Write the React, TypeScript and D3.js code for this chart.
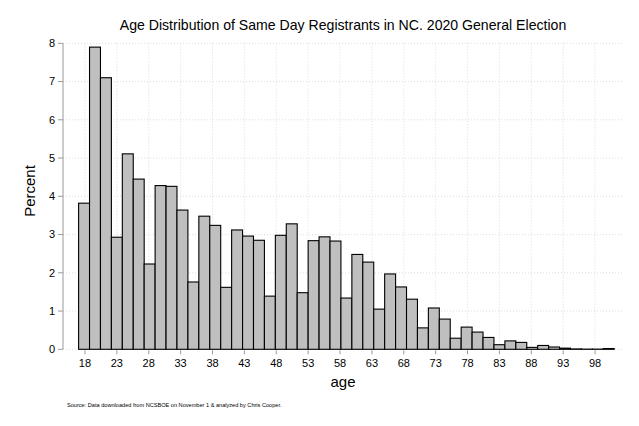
import React from 'react';
import * as d3 from 'd3';

// Histogram: 49 bins from age 17 to 101 (Stata default binning)
const binStart = 17;
const binEnd = 101;
const percents = [
  3.82, 7.9, 7.1, 2.93, 5.11, 4.45, 2.23, 4.28, 4.26, 3.64,
  1.76, 3.48, 3.24, 1.62, 3.12, 2.96, 2.85, 1.39, 2.98, 3.28,
  1.48, 2.84, 2.94, 2.83, 1.34, 2.48, 2.28, 1.05, 1.97, 1.63,
  1.31, 0.56, 1.08, 0.79, 0.29, 0.58, 0.45, 0.31, 0.12, 0.22,
  0.18, 0.05, 0.1, 0.06, 0.03, 0.01, 0.005, 0.005, 0.02,
];
const xTicks = [18, 23, 28, 33, 38, 43, 48, 53, 58, 63, 68, 73, 78, 83, 88, 93, 98];
const yTicks = [0, 1, 2, 3, 4, 5, 6, 7, 8];

const title = 'Age Distribution of Same Day Registrants in NC. 2020 General Election';
const source = 'Source: Data downloaded from NCSBOE on November 1 & analyzed by Chris Cooper.';

const W = 639;
const H = 426;
const font = 'Helvetica, Arial, "Liberation Sans", sans-serif';

export default function App() {
  const x = d3.scaleLinear().domain([binStart, binEnd]).range([78.6, 614.2]);
  const y = d3.scaleLinear().domain([0, 8]).range([349.3, 43.3]);
  const binW = (binEnd - binStart) / percents.length;
  const axisX = 63;
  const plotRight = 623;

  return (
    <svg width={W} height={H} style={{ position: 'absolute', left: 0, top: 0, background: '#fff' }} fontFamily={font}>
      <rect width={W} height={H} fill="#fff" />
      {/* grid */}
      {yTicks.map(t => (
        <line key={'gy' + t} x1={axisX} x2={plotRight} y1={y(t)} y2={y(t)}
          stroke="#d4d4d4" strokeWidth={0.8} strokeDasharray="1,2" />
      ))}
      {xTicks.map(t => (
        <line key={'gx' + t} x1={x(t)} x2={x(t)} y1={y(8)} y2={y(0)}
          stroke="#d4d4d4" strokeWidth={0.8} strokeDasharray="1,2" />
      ))}
      {/* bars */}
      {percents.map((p, i) => {
        const a0 = binStart + i * binW;
        const x0 = x(a0);
        const x1 = x(a0 + binW);
        return (
          <rect key={i} x={x0} y={y(p)} width={x1 - x0} height={y(0) - y(p)}
            fill="#bfbfbf" stroke="#000" strokeWidth={1.1} />
        );
      })}
      {/* y axis */}
      <line x1={axisX} x2={axisX} y1={y(8)} y2={y(0)} stroke="#9a9a9a" strokeWidth={1} />
      {yTicks.map(t => (
        <g key={'yt' + t}>
          <line x1={axisX - 5} x2={axisX} y1={y(t)} y2={y(t)} stroke="#9a9a9a" strokeWidth={1} />
          <text x={axisX - 8} y={y(t)} dy="0.35em" textAnchor="end" fontSize={11} fill="#000">{t}</text>
        </g>
      ))}
      {/* x ticks */}
      {xTicks.map(t => (
        <g key={'xt' + t}>
          <line x1={x(t)} x2={x(t)} y1={y(0) + 1} y2={y(0) + 5} stroke="#9a9a9a" strokeWidth={1} />
          <text x={x(t)} y={367} textAnchor="middle" fontSize={11} fill="#000">{t}</text>
        </g>
      ))}
      {/* labels */}
      <text x={343} y={30} textAnchor="middle" fontSize={14.1} fill="#000">{title}</text>
      <text transform="translate(35,191) rotate(-90)" textAnchor="middle" fontSize={15} fill="#000">Percent</text>
      <text x={343} y={387} textAnchor="middle" fontSize={15} fill="#000">age</text>
      <text x={67} y={407} fontSize={5.6} fill="#000">{source}</text>
    </svg>
  );
}
